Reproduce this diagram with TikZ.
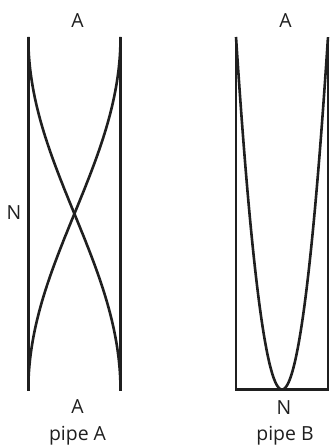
\documentclass[tikz,border=0pt]{standalone}
\usepackage{fontspec}
\setmainfont{Open Sans}
\begin{document}
\begin{tikzpicture}[x=1bp,y=-1bp,
  wall/.style={line width=2.6bp, draw=black!88, line join=miter},
  wave/.style={line width=2.6bp, draw=black!88},
  lbl/.style={font=\fontsize{19.5}{22}\selectfont, anchor=base, inner sep=0pt, text=black!88}]
\useasboundingbox (0,0) rectangle (329,446);
% pipe A
\coordinate (aTL) at (28.3,37);
\coordinate (aBL) at (28.3,390.5);
\coordinate (aTR) at (120.5,37);
\coordinate (aBR) at (120.5,390.5);
\draw[wall] (aTL) -- (aBL);
\draw[wall] (aTR) -- (aBR);
\draw[wave] plot[domain=0:1, samples=120, smooth] ({74.4-46.1*cos(180*\x)}, {37+353.5*\x});
\draw[wave] plot[domain=0:1, samples=120, smooth] ({74.4+46.1*cos(180*\x)}, {37+353.5*\x});
% pipe B
\coordinate (bTL) at (236,37);
\coordinate (bBL) at (236,389.5);
\coordinate (bBR) at (328,389.5);
\coordinate (bTR) at (328,37);
\draw[wall] (bTL) -- (bBL) -- (bBR) -- (bTR);
\draw[wave] plot[domain=-1:1, samples=161, smooth] ({282+46*\x}, {389.5-352.5*\x*\x});
% labels
\node[lbl] (topA) at (77.5,28) {A};
\node[lbl] (botA) at (77.5,413) {A};
\node[lbl] (pipeA) at (77.5,440.5) {pipe A};
\node[lbl] (leftN) at (14,220) {N};
\node[lbl] (topB) at (285.5,28) {A};
\node[lbl] (botN) at (284,414) {N};
\node[lbl] (pipeB) at (285,440.5) {pipe B};
\end{tikzpicture}
\end{document}
